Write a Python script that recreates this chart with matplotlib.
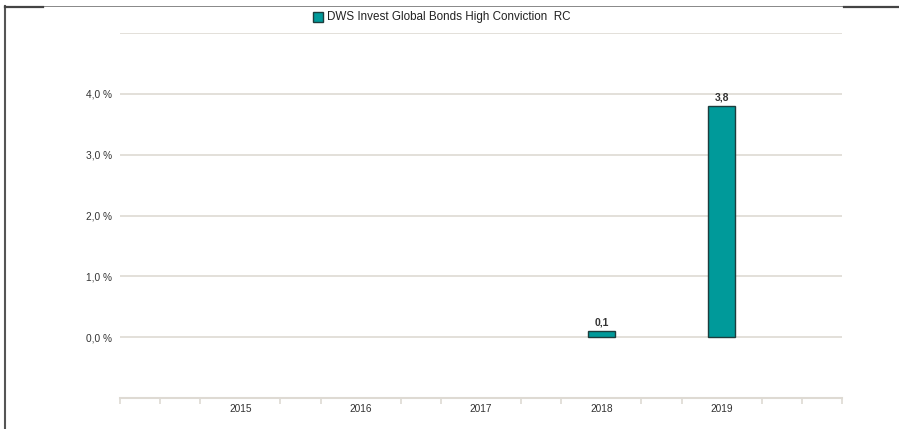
import matplotlib.pyplot as plt
from matplotlib.lines import Line2D
from matplotlib.patches import Rectangle

years = [2015, 2016, 2017, 2018, 2019]
values = [None, None, None, 0.1, 3.8]
labels = ["", "", "", "0,1", "3,8"]
yticks = [0, 1, 2, 3, 4]
ytick_labels = ["0,0 %", "1,0 %", "2,0 %", "3,0 %", "4,0 %"]
series_name = "DWS Invest Global Bonds High Conviction  RC"

W, H = 899, 429
fig = plt.figure(figsize=(W / 100, H / 100), dpi=100)
plt.rcParams['font.family'] = ['Liberation Sans', 'DejaVu Sans']

# plot area: x 120..842, y 33..398 (pixels from top)
ax = fig.add_axes([120 / W, 1 - 398 / H, 722 / W, 365 / H])
ax.set_xlim(2014, 2020)
ax.set_ylim(-1, 5)

bar_color = "#009a9a"
for yr, v, lab in zip(years, values, labels):
    if v is None:
        continue
    ax.bar(yr, v, width=0.225, color=bar_color, edgecolor="#1d3d3d", linewidth=1, zorder=3)
    ax.text(yr, v + 0.06, lab, ha="center", va="bottom", fontsize=7.5, fontweight="semibold", color="#333333")

grid_color = "#dedad3"
for g in [0, 1, 2, 3, 4, 5]:
    ax.axhline(g, color=grid_color, linewidth=1.2, zorder=1)

ax.set_yticks(yticks)
ax.set_yticklabels(ytick_labels, fontsize=7.3, color="#333333")
ax.tick_params(axis="y", length=0, pad=5.5)

ax.set_xticks(years)
ax.set_xticklabels([str(y) for y in years], fontsize=7.3, color="#333333")
minor = [2014 + i / 3 for i in range(19) if i % 3 != 0 or i in (0, 18)]
ax.set_xticks(minor, minor=True)
ax.tick_params(axis="x", which="major", length=0, pad=4)
ax.tick_params(axis="x", which="minor", length=4, width=1.2, color=grid_color, direction="out")

for s in ["top", "right", "left"]:
    ax.spines[s].set_visible(False)
ax.spines["bottom"].set_color(grid_color)
ax.spines["bottom"].set_linewidth(1.5)

# legend
fig.patches.append(Rectangle((313 / W, 1 - 22 / H), 10 / W, 10 / H, transform=fig.transFigure,
                             facecolor=bar_color, edgecolor="#1d3d3d", linewidth=1))
fig.text(327 / W, 1 - 17 / H, series_name, fontsize=8.4, va="center", ha="left", color="#222222")

# frame
fig.add_artist(Line2D([5 / W, 5 / W], [0, 1 - 6 / H], color="#555555", linewidth=1.5, transform=fig.transFigure))
fig.add_artist(Line2D([5 / W, 1], [1 - 6 / H, 1 - 6 / H], color="#888888", linewidth=0.7, transform=fig.transFigure))
fig.add_artist(Line2D([5 / W, 43 / W], [1 - 6.5 / H, 1 - 6.5 / H], color="#444444", linewidth=1.6, transform=fig.transFigure))
fig.add_artist(Line2D([844 / W, 1], [1 - 6.5 / H, 1 - 6.5 / H], color="#444444", linewidth=1.6, transform=fig.transFigure))

fig.savefig("out.png", dpi=100)
